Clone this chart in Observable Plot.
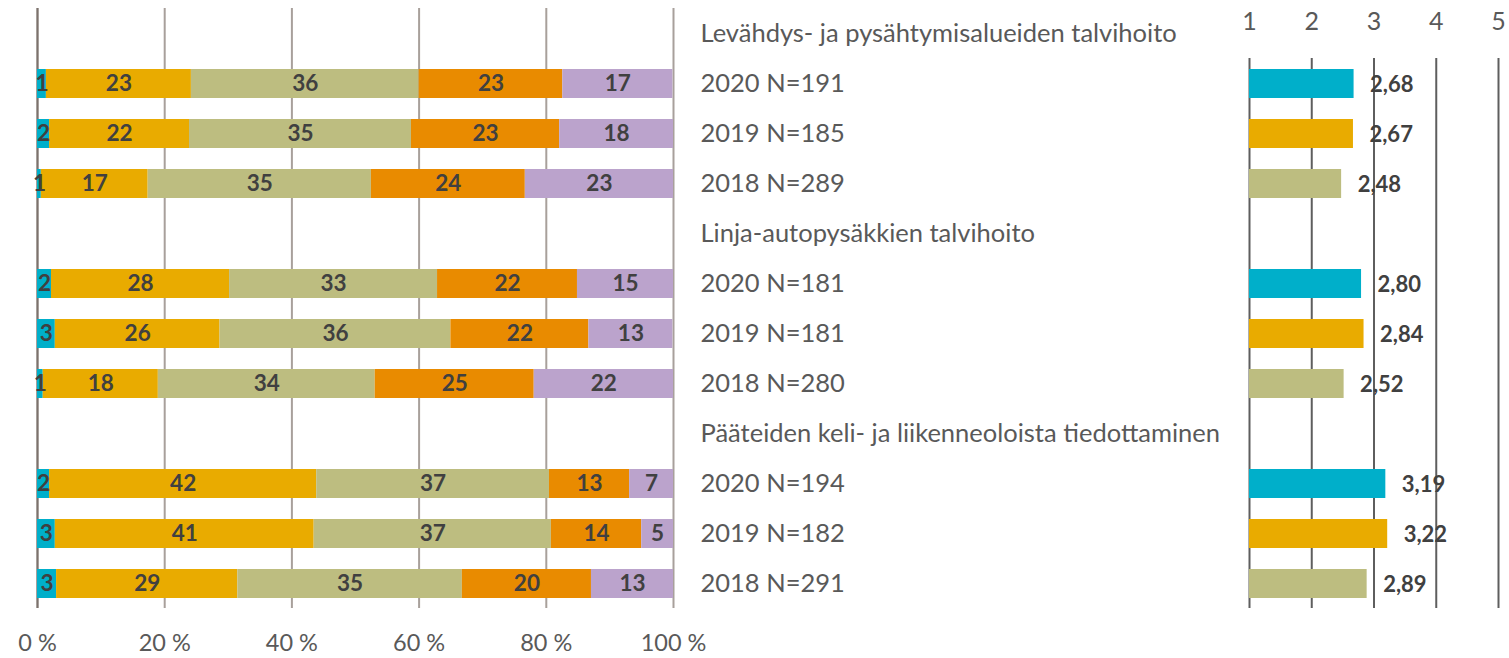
<!DOCTYPE html>
<html><head><meta charset="utf-8">
<script src="https://cdn.jsdelivr.net/npm/d3@7"></script>
<script src="https://cdn.jsdelivr.net/npm/@observablehq/plot@0.6"></script>
<style>
body{margin:0;background:#fff;font-family:Lato, "Open Sans", sans-serif;}
#chart{display:flex;width:1509px;height:658px;}
#chart svg{display:block;overflow:visible;}
</style></head><body><div id="chart"></div>
<script>
// ---- data ----
const groupTitles = [
  "Levähdys- ja pysähtymisalueiden talvihoito",
  "Linja-autopysäkkien talvihoito",
  "Pääteiden keli- ja liikenneoloista tiedottaminen"
];
const years = ["2020", "2019", "2018"];
const nCounts = [
  [191, 185, 289],
  [181, 181, 280],
  [194, 182, 291]
];
const categories = ["1", "2", "3", "4", "5"];
const categoryColors = ["#00AFCA", "#E9AB00", "#BDBD80", "#E98B00", "#BBA3CC"];
const yearColors = ["#00AFCA", "#E9AB00", "#BDBD80"];
// percentage shares per row (group -> year), categories in order
const shares = [
  [[1.4, 22.8, 35.8, 22.6, 17.3], [1.9, 22.0, 34.9, 23.3, 17.9], [0.6, 16.8, 35.1, 24.2, 23.3]],
  [[2.2, 28.0, 32.7, 22.0, 15.1], [2.8, 25.9, 36.3, 21.7, 13.2], [0.9, 18.1, 34.1, 25.0, 21.9]],
  [[1.9, 42.0, 36.6, 12.6, 6.9], [2.8, 40.7, 37.3, 14.2, 5.0], [3.0, 28.5, 35.3, 20.3, 12.9]]
];
const means = [
  [2.68, 2.67, 2.48],
  [2.80, 2.84, 2.52],
  [3.19, 3.22, 2.89]
];
const pctTicks = [0, 20, 40, 60, 80, 100];
const meanTicks = [1, 2, 3, 4, 5];

// ---- derived tables ----
const rowLabels = [];
const stackRows = [];
const meanRows = [];
groupTitles.forEach((g, gi) => {
  rowLabels.push(g);
  years.forEach((yr, yi) => {
    const label = `${yr} N=${nCounts[gi][yi]}`;
    rowLabels.push(label);
    shares[gi][yi].forEach((v, ci) => stackRows.push({row: label, cat: categories[ci], value: v}));
    meanRows.push({row: label, year: yr, mean: means[gi][yi]});
  });
});

const H = 658;
const yScale = {domain: rowLabels, paddingInner: 0.42, paddingOuter: 0.21, axis: null};
const font = "Lato, 'Open Sans', sans-serif";
const chart = document.getElementById("chart");

// ---- left: stacked percentages ----
const left = Plot.plot({
  width: 690, height: H,
  marginLeft: 37, marginRight: 17, marginTop: 8, marginBottom: 50,
  style: {fontFamily: font, overflow: "visible"},
  x: {domain: [0, 100], label: null},
  y: yScale,
  color: {domain: categories, range: categoryColors},
  marks: [
    Plot.gridX(pctTicks, {stroke: "#A8A09B", strokeOpacity: 1, strokeWidth: 2}),
    Plot.ruleX([0], {stroke: "#7C726D", strokeWidth: 2}),
    Plot.barX(stackRows, Plot.stackX({x: "value", y: "row", fill: "cat", z: "cat"})),
    Plot.text(stackRows, Plot.stackX({x: "value", y: "row", z: "cat",
      text: d => String(Math.round(d.value)), fill: "#404040", fontSize: 22.5, fontWeight: "bold"})),
    Plot.axisX(pctTicks, {anchor: "bottom", tickSize: 0, tickPadding: 26, tickFormat: d => d + " %",
      fontSize: 23.5, fill: "#595959", label: null})
  ]
});
chart.appendChild(left);

// ---- middle: row labels ----
const mid = Plot.plot({
  width: 540, height: H,
  marginLeft: 0, marginRight: 0, marginTop: 8, marginBottom: 50,
  style: {fontFamily: font, overflow: "visible"},
  x: {axis: null},
  y: yScale,
  marks: [
    Plot.text(rowLabels, {y: d => d, text: d => d, frameAnchor: "left", textAnchor: "start", dx: 10,
      fontSize: 25.5, fill: "#595959"})
  ]
});
chart.appendChild(mid);

// ---- right: means on 1–5 scale ----
const right = Plot.plot({
  width: 279, height: H,
  marginLeft: 19, marginRight: 11, marginTop: 58, marginBottom: 50,
  style: {fontFamily: font, overflow: "visible"},
  x: {domain: [1, 5], label: null},
  y: {...yScale, range: [8, 608]},
  color: {domain: years, range: yearColors},
  marks: [
    Plot.gridX(meanTicks, {stroke: "#5E5E5E", strokeOpacity: 1, strokeWidth: 2}),
    Plot.barX(meanRows, {x1: 1, x2: "mean", y: "row", fill: "year"}),
    Plot.text(meanRows, {x: "mean", y: "row", text: d => d.mean.toFixed(2).replace(".", ","),
      textAnchor: "start", dx: 16, dy: 1, fontSize: 22, fontWeight: "bold", fill: "#404040"}),
    Plot.axisX(meanTicks, {anchor: "top", tickSize: 0, tickPadding: 29, fontSize: 25, fill: "#595959", label: null})
  ]
});
chart.appendChild(right);
</script></body></html>
